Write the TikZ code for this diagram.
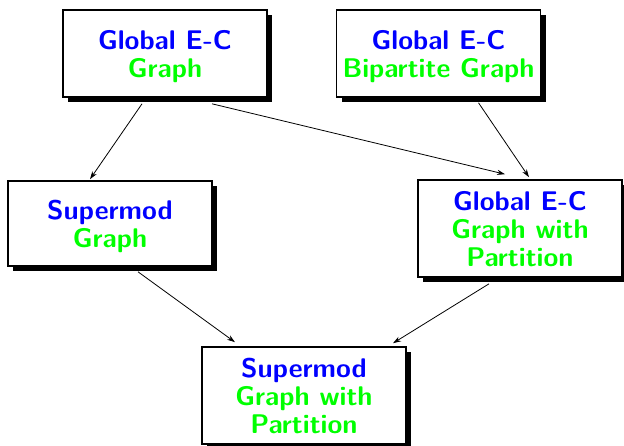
\documentclass[tikz,border=0pt]{standalone}
\usetikzlibrary{shadows,arrows.meta}
\begin{document}
\begin{tikzpicture}
    [ x=0.5pt, y=-0.5pt
    , box/.style={draw,shape=rectangle,fill=white,line width=0.8pt,inner sep=0pt,
        minimum width=102pt,align=center,text depth=0pt,
        drop shadow={shadow xshift=2.6pt,shadow yshift=-2.6pt,fill=black,opacity=1}}
    , every node/.style={font=\fontsize{13.5}{14}\selectfont\sffamily\bfseries}
    , flow/.style={line width=0.4pt,-{Stealth[length=4pt,width=2.6pt]}}
    ]

    \useasboundingbox (0,0) rectangle (624,445);

    \node [box, minimum height=43.5pt] (gecg)  at (165,53.5)
      {\textcolor{blue}{Global E-C}\\\textcolor{green}{Graph}};
    \node [box, minimum height=43.5pt] (gecbg) at (438.5,53.5)
      {\textcolor{blue}{Global E-C}\\\textcolor{green}{Bipartite Graph}};
    \node [box, minimum height=42.5pt] (smg)   at (110,223.5)
      {\textcolor{blue}{Supermod}\\\textcolor{green}{Graph}};
    \node [box, minimum height=48.5pt] (gecgp) at (520,228.5)
      {\textcolor{blue}{Global E-C}\\\textcolor{green}{Graph with}\\\textcolor{green}{Partition}};
    \node [box, minimum height=48.5pt] (smgp)  at (304,395.5)
      {\textcolor{blue}{Supermod}\\\textcolor{green}{Graph with}\\\textcolor{green}{Partition}};

    \draw [flow] ([xshift=-11.5pt,yshift=-3pt]gecg.south) -- ([xshift=-10pt,yshift=0.5pt]smg.north);
    \draw [flow] ([xshift=23.5pt,yshift=-3pt]gecg.south) -- ([xshift=-7.5pt,yshift=2.5pt]gecgp.north);
    \draw [flow] ([xshift=20pt,yshift=-2.5pt]gecbg.south) -- ([xshift=4.5pt,yshift=1pt]gecgp.north);
    \draw [flow] ([xshift=14pt,yshift=-2.5pt]smg.south) -- ([xshift=-34.5pt,yshift=2pt]smgp.north);
    \draw [flow] ([xshift=-15.5pt,yshift=-3pt]gecgp.south) -- ([xshift=44.5pt,yshift=1.5pt]smgp.north);

  \end{tikzpicture}
\end{document}
